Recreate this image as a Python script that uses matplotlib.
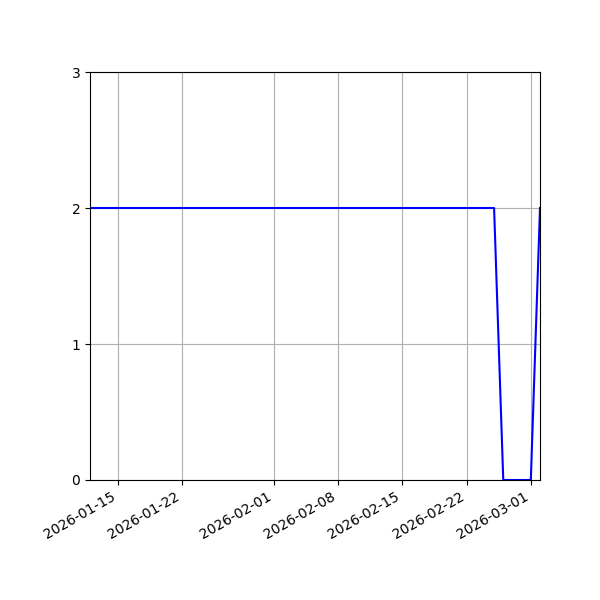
import matplotlib
matplotlib.use("Agg")
import matplotlib.pyplot as plt
import pandas as pd

start_date = "2026-01-12"
end_date = "2026-03-02"
values = [2, 2, 2, 2, 2, 2, 2, 2, 2, 2,
          2, 2, 2, 2, 2, 2, 2, 2, 2, 2,
          2, 2, 2, 2, 2, 2, 2, 2, 2, 2,
          2, 2, 2, 2, 2, 2, 2, 2, 2, 2,
          2, 2, 2, 2, 2, 0, 0, 0, 0, 2]
y_ticks = [0, 1, 2, 3]

dates = pd.date_range(start_date, end_date, freq="D")

fig, ax = plt.subplots(figsize=(6, 6), dpi=100)
ax.plot(dates, values, color="blue", linewidth=1.5)
ax.set_ylim(0, 3)
ax.set_yticks(y_ticks)
ax.set_xlim(dates[0], dates[-1])
ax.grid(True, color="#b0b0b0")
fig.autofmt_xdate()
fig.subplots_adjust(left=0.15, right=0.9, top=0.88, bottom=0.2)
fig.savefig("out.png", dpi=100)
